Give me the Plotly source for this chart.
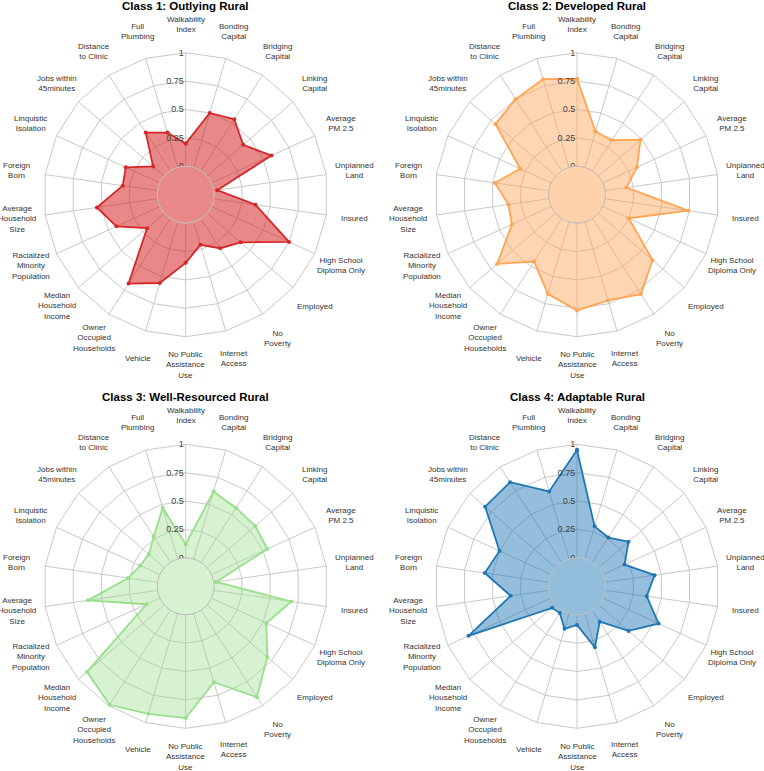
import math
import plotly.graph_objects as go

# Indicator names, clockwise from the top
categories = [
    "Walkability<br>Index", "Bonding<br>Capital", "Bridging<br>Capital", "Linking<br>Capital",
    "Average<br>PM 2.5", "Unplanned<br>Land", "Insured", "High School<br>Diploma Only",
    "Employed", "No<br>Poverty", "Internet<br>Access", "No Public<br>Assistance<br>Use",
    "Vehicle", "Owner<br>Occupied<br>Households", "Median<br>Household<br>Income",
    "Racialized<br>Minority<br>Population", "Average<br>Household<br>Size", "Foreign<br>Born",
    "Linquistic<br>Isolation", "Jobs within<br>45minutes", "Distance<br>to Clinic", "Full<br>Plumbing",
]

class1 = [0.20, 0.50, 0.54, 0.42, 0.58, 0.03, 0.37, 0.75, 0.39, 0.31, 0.21,
          0.35, 0.56, 0.68, 0.20, 0.42, 0.54, 0.31, 0.33, 0.13, 0.40, 0.32]
class2 = [0.77, 0.33, 0.32, 0.49, 0.33, 0.19, 0.74, 0.25, 0.63, 0.79, 0.72,
          0.77, 0.66, 0.45, 0.68, 0.38, 0.36, 0.48, 0.30, 0.70, 0.75, 0.81]
class3 = [0.12, 0.62, 0.57, 0.56, 0.54, 0.02, 0.69, 0.53, 0.70, 0.91, 0.63,
          0.91, 0.92, 0.99, 0.90, 0.13, 0.62, 0.26, 0.19, 0.18, 0.27, 0.47]
class4 = [0.95, 0.30, 0.26, 0.35, 0.21, 0.44, 0.37, 0.54, 0.35, 0.12, 0.31,
          0.09, 0.14, 0.03, 0.04, 0.80, 0.34, 0.57, 0.50, 0.82, 0.84, 0.62]

titles = ["Class 1: Outlying Rural", "Class 2: Developed Rural",
          "Class 3: Well-Resourced Rural", "Class 4: Adaptable Rural"]
series = [class1, class2, class3, class4]

radial_ticks = [0, 0.25, 0.5, 0.75, 1]
radial_text = ["0", "0.25", "0.5", "0.75", "1"]

# styling
W, H = 764, 771
line_colors = ["#d62728", "#ffa552", "#98df8a", "#1f77b4"]
fill_colors = ["rgba(214,39,40,0.55)", "rgba(255,165,82,0.45)",
               "rgba(152,223,138,0.40)", "rgba(31,119,180,0.48)"]
hole_colors = ["rgb(233,136,137)", "rgb(255,210,171)", "rgb(214,242,208)", "rgb(146,189,219)"]
centers = [(185.7, 194.7), (577, 194.7), (185.7, 586.3), (577, 586.3)]
R = 142          # outer radius, px
HOLE = 0.2
LABEL_R = 170.5  # labels are centred on this radius, px
grid = "#c8c8c8"
font = "Liberation Sans, Arial, sans-serif"

fig = go.Figure()
shapes, annotations = [], []

for i, (vals, title) in enumerate(zip(series, titles)):
    name = "polar" if i == 0 else f"polar{i + 1}"
    cx, cy = centers[i]
    fig.add_trace(go.Scatterpolar(
        r=vals + vals[:1], theta=categories + categories[:1],
        mode="lines+markers", fill="toself",
        line=dict(color=line_colors[i], width=1.8),
        marker=dict(color=line_colors[i], size=4),
        fillcolor=fill_colors[i], subplot=name, showlegend=False,
    ))
    fig.layout[name] = dict(
        domain=dict(x=[(cx - R) / W, (cx + R) / W], y=[1 - (cy + R) / H, 1 - (cy - R) / H]),
        hole=HOLE, gridshape="linear", bgcolor="white",
        angularaxis=dict(direction="clockwise", rotation=90, categoryorder="array",
                         categoryarray=categories, gridcolor=grid, linecolor=grid,
                         showticklabels=False, ticks=""),
        radialaxis=dict(range=[0, 1], tickvals=radial_ticks, ticktext=radial_text,
                        angle=90, side="counterclockwise", tickangle=90,
                        showline=False, gridcolor=grid, ticks="",
                        tickfont=dict(size=9, color="#444444", family=font)),
    )
    # filled centre disc, as in the original
    hr = R * HOLE
    shapes.append(dict(type="circle", xref="paper", yref="paper",
                       x0=(cx - hr) / W, x1=(cx + hr) / W,
                       y0=1 - (cy + hr) / H, y1=1 - (cy - hr) / H,
                       fillcolor=hole_colors[i], line=dict(color="#bdbdbd", width=1)))
    # category labels centred around the web
    n = len(categories)
    for k, cat in enumerate(categories):
        ang = math.radians(90 - 360 * k / n)
        lx = cx + LABEL_R * math.cos(ang)
        ly = cy - LABEL_R * math.sin(ang)
        annotations.append(dict(text=cat, x=lx / W, y=1 - ly / H, xref="paper", yref="paper",
                                showarrow=False, xanchor="center", yanchor="middle",
                                font=dict(size=8, color="#333333", family=font)))
    annotations.append(dict(text=f"<b>{title}</b>", x=cx / W, y=1 - (cy - 189) / H,
                            xref="paper", yref="paper", showarrow=False,
                            xanchor="center", yanchor="middle",
                            font=dict(size=11.5, color="black", family=font)))

fig.update_layout(width=W, height=H, margin=dict(l=0, r=0, t=0, b=0),
                  paper_bgcolor="white", shapes=shapes, annotations=annotations)
# drop the page's default body margin so the figure sits at the window corner
fig.write_html("out.html", config={"displayModeBar": False},
               post_script="document.body.style.margin = '0px';")
